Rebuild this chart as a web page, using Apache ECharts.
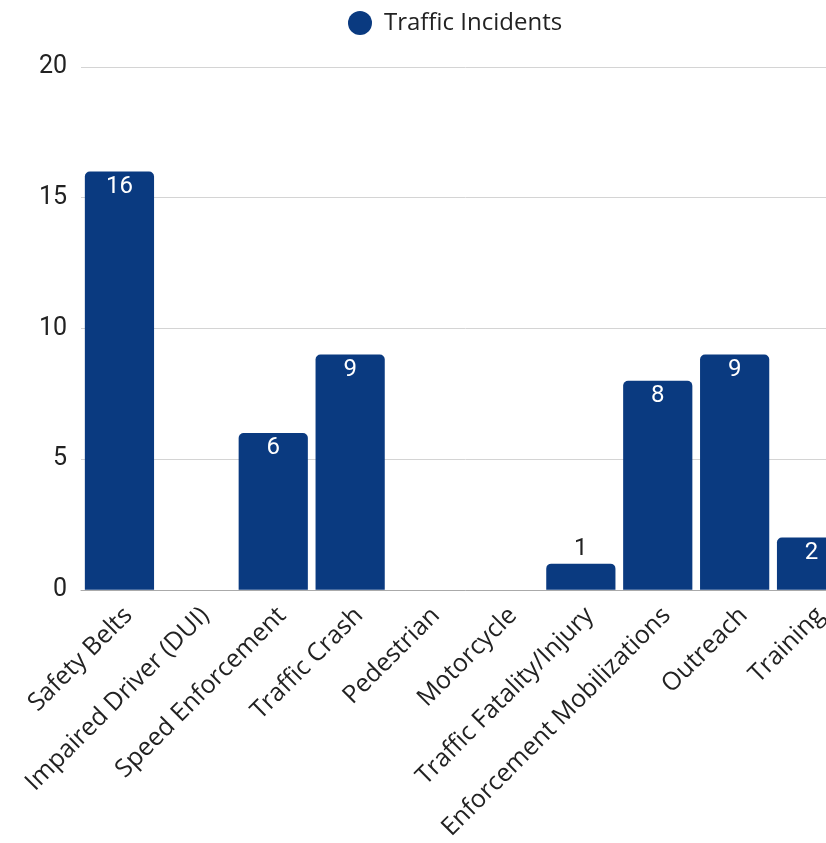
<!DOCTYPE html>
<html><head><meta charset="utf-8">
<script src="https://cdn.jsdelivr.net/npm/echarts@6/dist/echarts.min.js"></script>
<style>html,body{margin:0;padding:0;background:#fff;overflow:hidden}#c{width:850px;height:843px}</style>
</head><body><div id="c"></div>
<script>
const categories = ["Safety Belts","Impaired Driver (DUI)","Speed Enforcement","Traffic Crash","Pedestrian","Motorcycle","Traffic Fatality/Injury","Enforcement Mobilizations","Outreach","Training"];
const values = [16, 0, 6, 9, 0, 0, 1, 8, 9, 2];
const yTicks = [0, 5, 10, 15, 20];
const seriesName = "Traffic Incidents";

const chart = echarts.init(document.getElementById('c'), null, {renderer:'canvas'});
const data = values.map(v => {
  if (v === 0) return {value: v, label: {show: false}};
  if (v < 2) return {value: v, label: {position: 'top', color: '#222', distance: 3}};
  return v;
});
chart.setOption({
  animation: false,
  legend: {
    data: [seriesName], left: 343, top: 6, icon: 'circle', itemWidth: 24, itemHeight: 24, itemGap: 11,
    textStyle: {fontFamily: 'Open Sans', fontSize: 24, color: '#222', padding: [0, 0, 0, 7]}
  },
  grid: {left: 81, right: 0, top: 67, bottom: 251, containLabel: false},
  xAxis: {
    type: 'category', data: categories,
    axisTick: {show: false},
    axisLine: {lineStyle: {color: '#aaa', width: 1}},
    axisLabel: {rotate: 45, interval: 0, margin: 13, verticalAlign: 'top', fontFamily: 'Open Sans', fontSize: 25, color: '#222'}
  },
  yAxis: {
    type: 'value', min: yTicks[0], max: yTicks[yTicks.length-1], interval: 5,
    axisLine: {show: false}, axisTick: {show: false},
    splitLine: {lineStyle: {color: '#d4d4d4'}},
    axisLabel: {fontFamily: 'Roboto', fontSize: 25, color: '#222', margin: 14}
  },
  series: [{
    name: seriesName, type: 'bar', data: data, barCategoryGap: '10%',
    itemStyle: {color: '#0a3a80', borderRadius: [5,5,0,0]},
    label: {show: true, position: 'insideTop', distance: 3, color: '#fff', fontFamily: 'Roboto', fontSize: 24}
  }]
});
</script></body></html>
